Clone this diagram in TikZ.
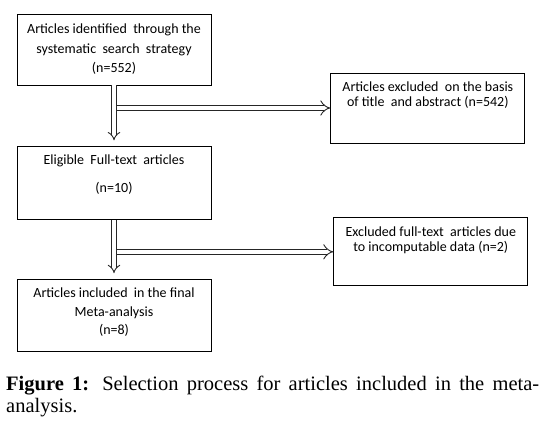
\documentclass[tikz,border=0pt]{standalone}
\usepackage{fontspec}
\setmainfont{Liberation Serif}
\newfontfamily\boxfont{Carlito}
\usetikzlibrary{arrows.meta, positioning}

\begin{document}
\begin{tikzpicture}[x=1pt, y=1pt,
  box/.style={rectangle, draw=black, line width=0.8pt, minimum width=194pt,
              minimum height=71pt, align=center, inner sep=0pt,
              font=\boxfont\fontsize{14}{19.5}\selectfont},
  exbox/.style={box, font=\boxfont\fontsize{14}{15}\selectfont},
  arrow/.style={-{Implies[length=6pt, width=12pt]}, double=white,
                double distance=3.5pt, line width=0.9pt, draw=black!85},
  sidearrow/.style={arrow, double distance=4.5pt},
  caption/.style={text width=533pt, align=justify, inner sep=0pt,
                  font=\fontsize{20.5}{22}\selectfont}
]
\useasboundingbox (0,0) rectangle (543,-427);

\node[box] (found) at (114,-49.5)
  {Articles identified\ \ through the\\systematic\ \ search\ \ strategy\\(n=552)};
\node[box, below=61pt of found, minimum height=73pt]
  (eligible) {Eligible\ \ Full-text\ \ articles\\[8.5pt](n=10)\\\mbox{}};
\node[box, below=59pt of eligible, minimum height=72pt,
      font=\boxfont\fontsize{14}{18.5}\selectfont]
  (included) {Articles included\ \ in the final\\Meta-analysis\\(n=8)\\[-10pt]\mbox{}};

\node[exbox, below right=59pt and 119pt of found.north east, minimum height=70pt]
  (excl) {Articles excluded\ \ on the basis\\of title\ \ and abstract (n=542)\\[13.5pt]\mbox{}};
\node[exbox, below=74pt of excl, xshift=3pt, minimum height=68pt]
  (incomp) {Excluded full-text\ \ articles due\\to incomputable data (n=2)\\[9.5pt]\mbox{}};

\draw[arrow, shorten >=6pt] (found.south) -- (eligible.north);
\draw[sidearrow] ([xshift=2.5pt]found.south |- excl.west) -- (excl.west);
\draw[arrow, shorten >=6pt] (eligible.south) -- (included.north);
\draw[sidearrow] ([xshift=2.5pt]eligible.south |- incomp.west) -- (incomp.west);

\node[caption, anchor=north west] (cap) at (6,-376)
  {\textbf{Figure 1:} Selection process for articles included in the meta-\linebreak analysis.};

\end{tikzpicture}
\end{document}
